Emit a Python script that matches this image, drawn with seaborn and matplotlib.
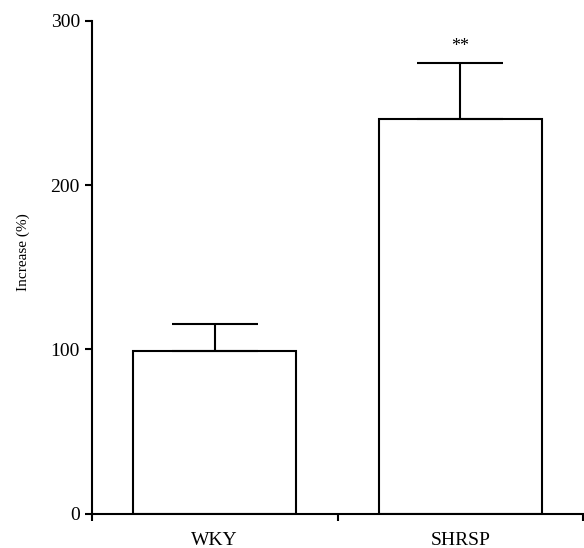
import matplotlib
matplotlib.use("Agg")
import matplotlib.pyplot as plt
import seaborn as sns
import pandas as pd

groups = ["WKY", "SHRSP"]
means = [99, 240]
errors = [16.5, 34.5]
y_ticks = [0, 100, 200, 300]
significance = ["", "**"]

sns.set_style("ticks")
plt.rcParams["font.family"] = ["Liberation Serif", "DejaVu Serif"]
plt.rcParams.update({"text.color": "black", "axes.labelcolor": "black",
                     "xtick.color": "black", "ytick.color": "black",
                     "xtick.labelcolor": "black", "ytick.labelcolor": "black"})

df = pd.DataFrame({"group": groups, "value": means})

fig = plt.figure(figsize=(5.84, 5.48), dpi=100)
ax = fig.add_axes([0.157, 0.0626, 0.842, 0.8996])

sns.barplot(data=df, x="group", y="value", color="white", saturation=1,
            edgecolor="black", linewidth=1.5, width=0.66, errorbar=None, ax=ax)
ax.errorbar(x=range(len(groups)), y=means, yerr=[[0] * len(errors), errors],
            fmt="none", ecolor="black", elinewidth=1.5, capsize=31, capthick=1.5,
            zorder=3)

for i, s in enumerate(significance):
    if s:
        ax.text(i, means[i] + errors[i] + 10, s, ha="center", va="center",
                fontsize=13, color="black")

ax.set_xlim(-0.5, 1.5)
ax.set_ylim(0, 300)
ax.set_yticks(y_ticks)
ax.set_xticks([-0.5, 0.5, 1.5], minor=True)
ax.tick_params(axis="x", which="major", length=0, pad=13, labelsize=14,
               labelcolor="black")
ax.tick_params(axis="x", which="minor", length=5, width=1.5, direction="out",
               color="black")
ax.tick_params(axis="y", length=5, width=1.5, pad=3.5, labelsize=14,
               color="black", labelcolor="black")
ax.set_xlabel("")
ax.set_ylabel("Increase (%)", fontsize=11, color="black")
ax.yaxis.set_label_coords(-0.126, 0.53)
sns.despine(ax=ax)
for sp in ["left", "bottom"]:
    ax.spines[sp].set_linewidth(1.5)
    ax.spines[sp].set_color("black")

fig.savefig("out.png", dpi=100)
